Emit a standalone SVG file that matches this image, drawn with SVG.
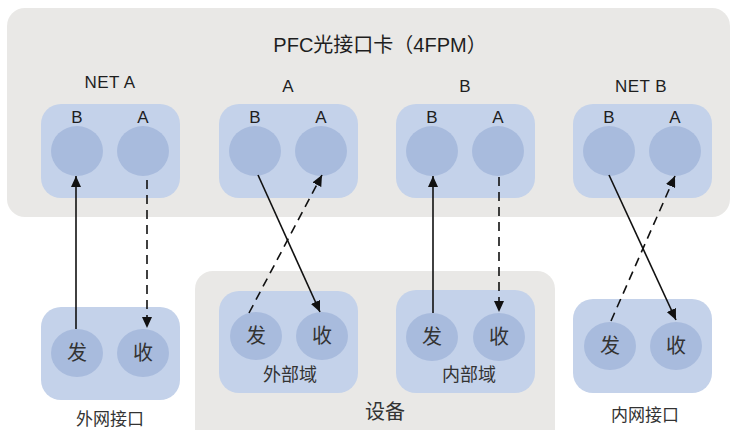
<svg xmlns="http://www.w3.org/2000/svg" width="731" height="430" viewBox="0 0 731 430">
  <defs>
    <marker id="arrow" viewBox="0 0 11 10" refX="11" refY="5" markerWidth="11" markerHeight="10" markerUnits="userSpaceOnUse" orient="auto">
      <path d="M0,0 L11,5 L0,10 Z" fill="#111"/>
    </marker>
    <style>
      .panel { fill: #e9e8e6; }
      .box { fill: #c4d2ea; }
      .port { fill: #a8bbdd; }
      .lbl { font-family: "Liberation Sans", "Noto Sans CJK SC", sans-serif; fill: #1e1e1e; text-anchor: middle; }
      .cjk { font-family: "Noto Sans CJK SC", "Liberation Sans", sans-serif; fill: #333; text-anchor: middle; }
      .solid { stroke: #111; stroke-width: 1.6; fill: none; marker-end: url(#arrow); }
      .dash { stroke: #111; stroke-width: 1.6; fill: none; stroke-dasharray: 9 6; marker-end: url(#arrow); }
    </style>
  </defs>

  <!-- PFC card -->
  <g id="card">
    <rect class="panel" x="7" y="8" width="723" height="209" rx="18"/>
    <text class="lbl" x="380" y="52" font-size="20">PFC光接口卡（4FPM）</text>
  </g>

  <!-- device panel -->
  <g id="device">
    <rect class="panel" x="195" y="271" width="360" height="180" rx="18"/>
    <text class="cjk" x="385" y="419" font-size="20">设备</text>
  </g>

  <g id="netA">
    <text class="lbl" x="110" y="88" font-size="17" letter-spacing="0.4">NET A</text>
    <rect class="box" x="41" y="104" width="139" height="94" rx="20"/>
    <text class="lbl" x="77" y="123" font-size="17">B</text>
    <text class="lbl" x="143" y="123" font-size="17">A</text>
    <ellipse class="port" cx="77" cy="151" rx="26" ry="25"/>
    <ellipse class="port" cx="143" cy="151" rx="26" ry="25"/>
  </g>

  <g id="portA">
    <text class="lbl" x="288" y="92" font-size="17">A</text>
    <rect class="box" x="219" y="104" width="139" height="94" rx="20"/>
    <text class="lbl" x="255" y="123" font-size="17">B</text>
    <text class="lbl" x="321" y="123" font-size="17">A</text>
    <ellipse class="port" cx="255" cy="151" rx="26" ry="25"/>
    <ellipse class="port" cx="321" cy="151" rx="26" ry="25"/>
  </g>

  <g id="portB">
    <text class="lbl" x="465" y="92" font-size="17">B</text>
    <rect class="box" x="396" y="104" width="139" height="94" rx="20"/>
    <text class="lbl" x="432" y="123" font-size="17">B</text>
    <text class="lbl" x="498" y="123" font-size="17">A</text>
    <ellipse class="port" cx="432" cy="151" rx="26" ry="25"/>
    <ellipse class="port" cx="498" cy="151" rx="26" ry="25"/>
  </g>

  <g id="netB">
    <text class="lbl" x="641" y="92" font-size="17" letter-spacing="0.4">NET B</text>
    <rect class="box" x="573" y="104" width="139" height="94" rx="20"/>
    <text class="lbl" x="609" y="123" font-size="17">B</text>
    <text class="lbl" x="675" y="123" font-size="17">A</text>
    <ellipse class="port" cx="609" cy="151" rx="26" ry="25"/>
    <ellipse class="port" cx="675" cy="151" rx="26" ry="25"/>
  </g>

  <g id="outerIf">
    <rect class="box" x="41" y="307" width="139" height="93" rx="20"/>
    <ellipse class="port" cx="77" cy="353" rx="26" ry="24"/>
    <ellipse class="port" cx="143" cy="353" rx="26" ry="24"/>
    <text class="cjk" x="77" y="360" font-size="20">发</text>
    <text class="cjk" x="143" y="360" font-size="20">收</text>
    <text class="cjk" x="110" y="425" font-size="17">外网接口</text>
  </g>

  <g id="outerDomain">
    <rect class="box" x="219" y="291" width="139" height="102" rx="20"/>
    <ellipse class="port" cx="256" cy="336" rx="26" ry="24"/>
    <ellipse class="port" cx="322" cy="336" rx="26" ry="24"/>
    <text class="cjk" x="256" y="343" font-size="20">发</text>
    <text class="cjk" x="322" y="343" font-size="20">收</text>
    <text class="cjk" x="290" y="381" font-size="18">外部域</text>
  </g>

  <g id="innerDomain">
    <rect class="box" x="396" y="290" width="139" height="103" rx="20"/>
    <ellipse class="port" cx="432" cy="337" rx="26" ry="24"/>
    <ellipse class="port" cx="499" cy="337" rx="26" ry="24"/>
    <text class="cjk" x="432" y="344" font-size="20">发</text>
    <text class="cjk" x="499" y="344" font-size="20">收</text>
    <text class="cjk" x="469" y="381" font-size="18">内部域</text>
  </g>

  <g id="innerIf">
    <rect class="box" x="573" y="299" width="139" height="94" rx="20"/>
    <ellipse class="port" cx="610" cy="346" rx="26" ry="24"/>
    <ellipse class="port" cx="676" cy="346" rx="26" ry="24"/>
    <text class="cjk" x="610" y="353" font-size="20">发</text>
    <text class="cjk" x="676" y="353" font-size="20">收</text>
    <text class="cjk" x="645" y="421" font-size="17">内网接口</text>
  </g>

  <g id="connectors">
    <line class="solid" x1="76" y1="329" x2="76" y2="176"/>
    <line class="dash" x1="147" y1="180" x2="147" y2="328"/>
    <line class="solid" x1="258" y1="175" x2="320" y2="312"/>
    <line class="dash" x1="249" y1="313" x2="322" y2="175"/>
    <line class="solid" x1="433" y1="313" x2="433" y2="176"/>
    <line class="dash" x1="499" y1="177" x2="499" y2="312"/>
    <line class="solid" x1="609" y1="175" x2="676" y2="320"/>
    <line class="dash" x1="611" y1="321" x2="675" y2="176"/>
  </g>
</svg>
